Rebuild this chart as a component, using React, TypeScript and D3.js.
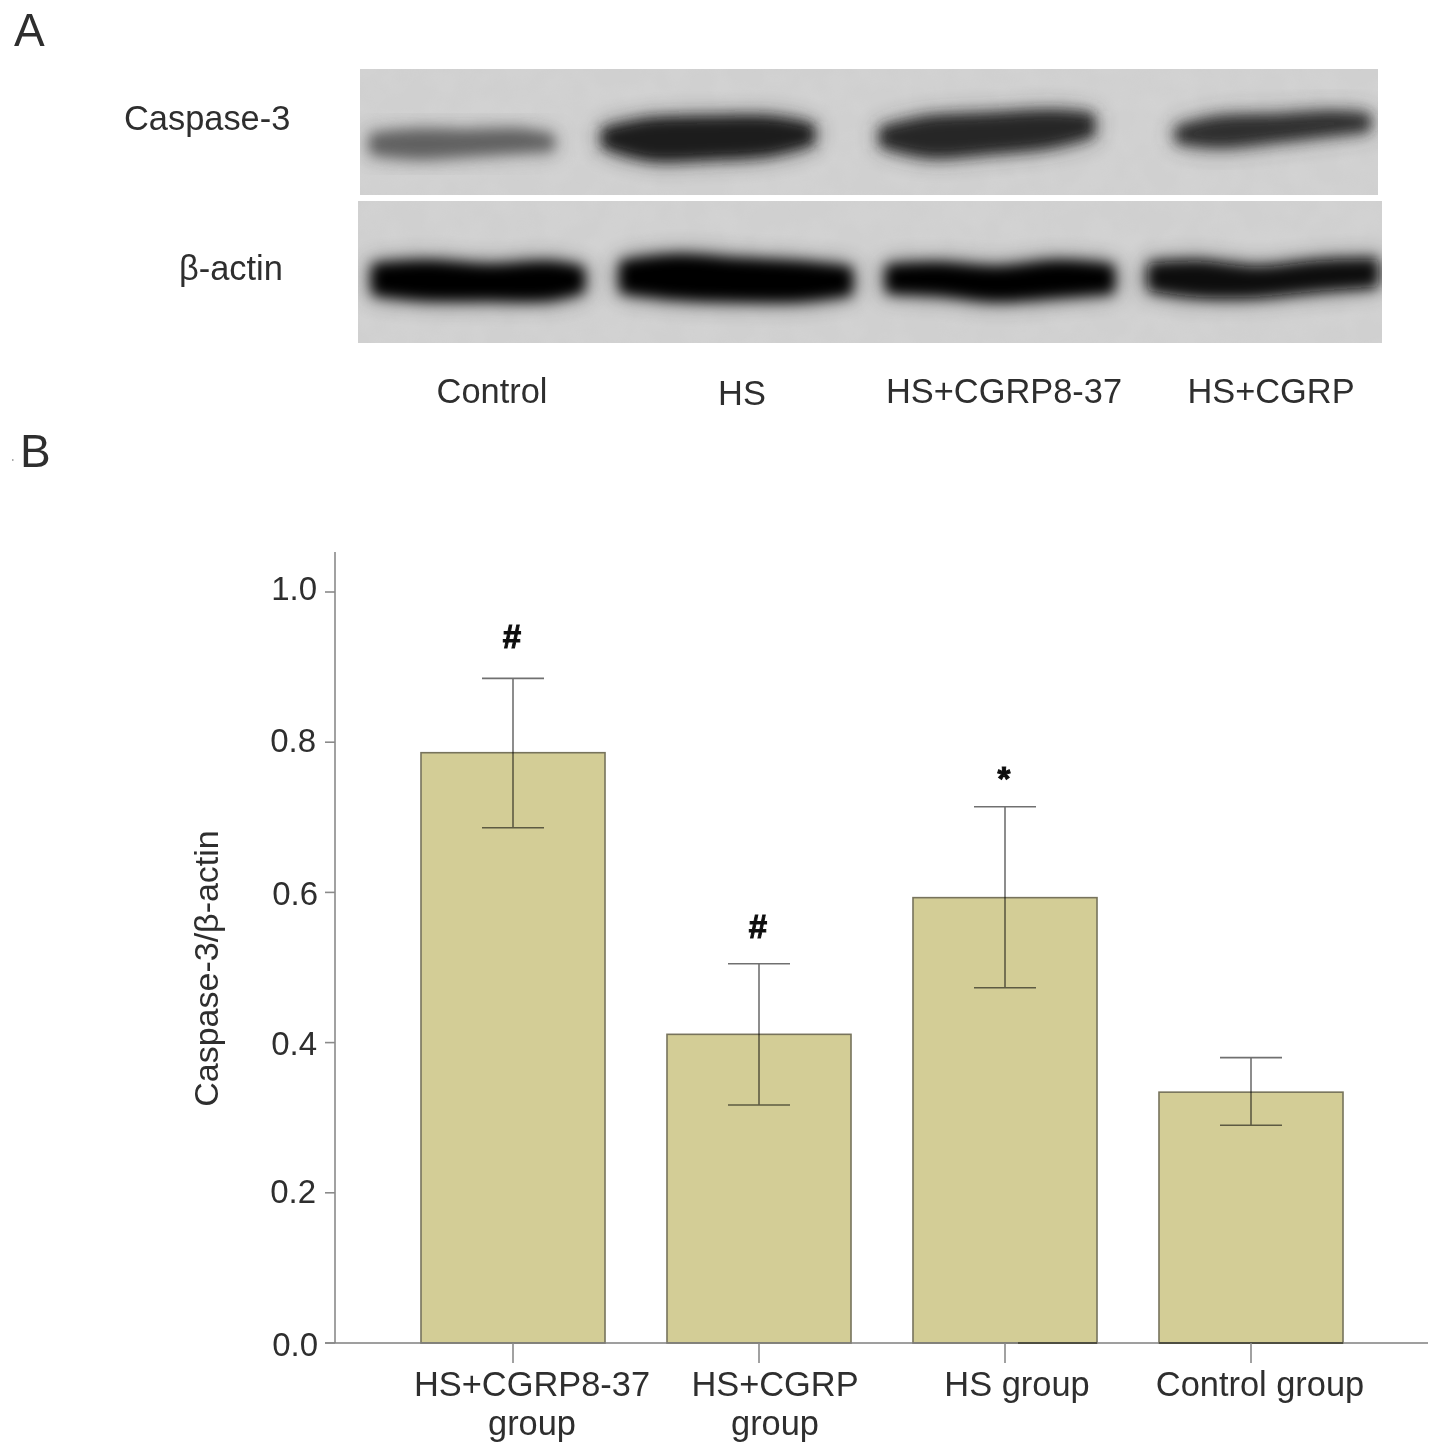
import React from "react";
import * as d3 from "d3";

// ---------- Panel B data ----------
const categories = ["HS+CGRP8-37 group", "HS+CGRP group", "HS group", "Control group"];
const means = [0.786, 0.411, 0.593, 0.334];
const errTop = [0.885, 0.505, 0.714, 0.38];
const errBottom = [0.686, 0.317, 0.473, 0.29];
const marks = ["#", "#", "*", ""];
const markLift = [30, 26, 17, 0];
const yTicks = [0, 0.2, 0.4, 0.6, 0.8, 1.0];
const yTickNudge = [[1, 1], [-1, -2], [0, 0], [1, 1], [-1, -2], [0, -4]];
const xLabelLines = [["HS+CGRP8-37", "group"], ["HS+CGRP", "group"], ["HS group"], ["Control group"]];
const xLabelShift = [19, 16, 12, 9];

// ---------- Panel A data (gel units along the membrane) ----------
const laneLabels = ["Control", "HS", "HS+CGRP8-37", "HS+CGRP"];
const laneLabelX = [492, 742, 1004, 1271];
const laneLabelY = [403, 405, 403, 403];
const caspaseX = [
  [14, 60, 110, 160, 190],
  [246, 290, 350, 410, 450],
  [524, 570, 630, 690, 730],
  [820, 860, 920, 970, 1006],
];
const caspaseTop = [
  [69, 65, 66, 65, 70],
  [63, 54, 52, 52, 59],
  [62, 52, 49, 46, 49],
  [61, 52, 50, 47, 49],
];
const caspaseBottom = [
  [81, 85, 82, 79, 77],
  [75, 87, 86, 82, 72],
  [74, 84, 80, 74, 64],
  [70, 74, 68, 62, 58],
];
const caspaseShade = ["#606060", "#1e1e1e", "#262626", "#2e2e2e"];
const actinX = [
  [18, 70, 130, 190, 222],
  [266, 320, 380, 440, 490],
  [532, 580, 640, 700, 752],
  [794, 840, 900, 960, 1016],
];
const actinTop = [
  [67, 64, 68, 65, 70],
  [64, 58, 62, 65, 70],
  [68, 66, 70, 64, 68],
  [66, 64, 70, 64, 62],
];
const actinBottom = [
  [90, 95, 95, 95, 88],
  [88, 94, 96, 96, 90],
  [88, 90, 96, 92, 88],
  [86, 92, 92, 86, 82],
];
const actinShade = ["#000000", "#000000", "#000000", "#080808"];

const FONT = "'Liberation Sans', Arial, sans-serif";
const TEXT = "#2e2e2e";
const SIZE = 34.4;

const y = d3.scaleLinear().domain([0, 1]).range([1343, 592]);
const x = d3.scaleBand<string>().domain(categories).range([421, 1343]).paddingInner(62 / 246).paddingOuter(0);

function Blot({ left, top, width, height, xs, tops, bottoms, shades, id }: any) {
  const gx = d3.scaleLinear().domain([0, width]).range([left, left + width]);
  const gy = d3.scaleLinear().domain([0, height]).range([top, top + height]);
  const area = d3
    .area<number>()
    .x((_, i, arr) => gx((arr as any).xs[i]))
    .y0((_, i, arr) => gy((arr as any).t[i]))
    .y1((_, i, arr) => gy((arr as any).b[i]))
    .curve(d3.curveCatmullRom);
  return (
    <g>
      <clipPath id={id}>
        <rect x={left} y={top} width={width} height={height} />
      </clipPath>
      <g clipPath={`url(#${id})`}>
        <rect x={left} y={top} width={width} height={height} fill="#d0d0d0" />
        <rect x={left} y={top} width={width} height={height} filter="url(#mottle)" opacity={0.5} />
        {xs.map((lane: number[], i: number) => {
          const pts: any = lane.slice();
          pts.xs = lane;
          pts.t = tops[i];
          pts.b = bottoms[i];
          return (
            <g key={i}>
              <path d={area(pts) || ""} fill={shades[i]} opacity={0.45} stroke={shades[i]} strokeWidth={14} filter="url(#halo)" />
              <path d={area(pts) || ""} fill={shades[i]} stroke={shades[i]} strokeWidth={8} strokeLinejoin="round" filter="url(#soft)" />
            </g>
          );
        })}
      </g>
    </g>
  );
}

export default function App() {
  return (
    <svg
      width={1441}
      height={1454}
      viewBox="0 0 1441 1454"
      style={{ position: "absolute", left: 0, top: 0, display: "block", background: "#fff" }}
      fontFamily={FONT}
    >
      <defs>
        <filter id="soft" x="-20%" y="-80%" width="140%" height="260%">
          <feGaussianBlur stdDeviation="6.5" />
        </filter>
        <filter id="halo" x="-20%" y="-100%" width="140%" height="300%">
          <feGaussianBlur stdDeviation="11" />
        </filter>
        <filter id="mottle" x="0" y="0" width="100%" height="100%">
          <feTurbulence type="fractalNoise" baseFrequency="0.035" numOctaves="2" seed="4" />
          <feColorMatrix type="matrix" values="0 0 0 0 0.72  0 0 0 0 0.72  0 0 0 0 0.72  0.9 0 0 0 -0.3" />
        </filter>
        <filter id="jpeg" x="-5%" y="-5%" width="110%" height="110%">
          <feGaussianBlur stdDeviation="0.4" />
        </filter>
      </defs>

      <g filter="url(#jpeg)">
        <text x={14} y={46} fontSize={46} fill={TEXT}>A</text>
        <text x={20} y={467} fontSize={46} fill={TEXT}>B</text>
      </g>
      <rect x={12} y={459} width={1.5} height={2} fill="#aaa" />

      <Blot id="c1" left={360} top={69} width={1018} height={126} xs={caspaseX} tops={caspaseTop} bottoms={caspaseBottom} shades={caspaseShade} />
      <Blot id="c2" left={358} top={201} width={1024} height={142} xs={actinX} tops={actinTop} bottoms={actinBottom} shades={actinShade} />

      <g filter="url(#jpeg)">
        <text x={124} y={130} fontSize={SIZE} fill={TEXT}>Caspase-3</text>
        <text x={179} y={280} fontSize={SIZE} fill={TEXT}>β-actin</text>
        {laneLabels.map((l, i) => (
          <text key={l} x={laneLabelX[i]} y={laneLabelY[i]} fontSize={SIZE} fill={TEXT} textAnchor="middle">{l}</text>
        ))}

        {/* bars */}
        {categories.map((c, i) => (
          <rect
            key={c}
            x={x(c)}
            y={y(means[i])}
            width={x.bandwidth()}
            height={y(0) - y(means[i])}
            fill="#d3cd96"
            stroke="#77735c"
            strokeWidth={1.6}
          />
        ))}

        {/* axes */}
        <line x1={335} x2={335} y1={552} y2={1343} stroke="#8a8a8a" strokeWidth={1.6} />
        <line x1={325} x2={1428} y1={y(0)} y2={y(0)} stroke="#7f7f7f" strokeWidth={1.6} />
        <line x1={1018} x2={1097} y1={y(0)} y2={y(0)} stroke="#3d3d30" strokeWidth={1.6} />
        <line x1={1159} x2={1343} y1={y(0)} y2={y(0)} stroke="#3d3d30" strokeWidth={1.6} />
        {yTicks.map((t, i) => (
          <g key={t}>
            <line x1={325} x2={335} y1={y(t)} y2={y(t)} stroke="#8a8a8a" strokeWidth={1.6} />
            <text
              x={317 + yTickNudge[i][0]}
              y={y(t) + 12 + yTickNudge[i][1]}
              fontSize={33}
              fill={TEXT}
              textAnchor="end"
            >
              {d3.format(".1f")(t)}
            </text>
          </g>
        ))}
        <text
          transform="translate(218,968.5) rotate(-90)"
          fontSize={34}
          fill={TEXT}
          textAnchor="middle"
        >
          Caspase-3/β-actin
        </text>

        {/* error bars, ticks, labels */}
        {categories.map((c, i) => {
          const cx = (x(c) as number) + x.bandwidth() / 2;
          return (
            <g key={c}>
              <g style={{ mixBlendMode: "multiply" }} stroke="#707070" strokeWidth={1.6}>
                <line x1={cx} x2={cx} y1={y(errTop[i])} y2={y(errBottom[i])} />
                <line x1={cx - 31} x2={cx + 31} y1={y(errTop[i])} y2={y(errTop[i])} />
                <line x1={cx - 31} x2={cx + 31} y1={y(errBottom[i])} y2={y(errBottom[i])} />
              </g>
              <line x1={cx} x2={cx} y1={y(0)} y2={y(0) + 20} stroke="#8a8a8a" strokeWidth={1.6} />
              {marks[i] && (
                <text
                  x={cx - 1}
                  y={y(errTop[i]) - markLift[i]}
                  fontSize={33}
                  fontWeight="bold"
                  fill="#111"
                  stroke="#111"
                  strokeWidth={1}
                  textAnchor="middle"
                >
                  {marks[i]}
                </text>
              )}
              {xLabelLines[i].map((line, j) => (
                <text
                  key={line}
                  x={cx + xLabelShift[i]}
                  y={1396 + j * 38.5}
                  fontSize={SIZE}
                  fill={TEXT}
                  textAnchor="middle"
                >
                  {line}
                </text>
              ))}
            </g>
          );
        })}
      </g>
    </svg>
  );
}
